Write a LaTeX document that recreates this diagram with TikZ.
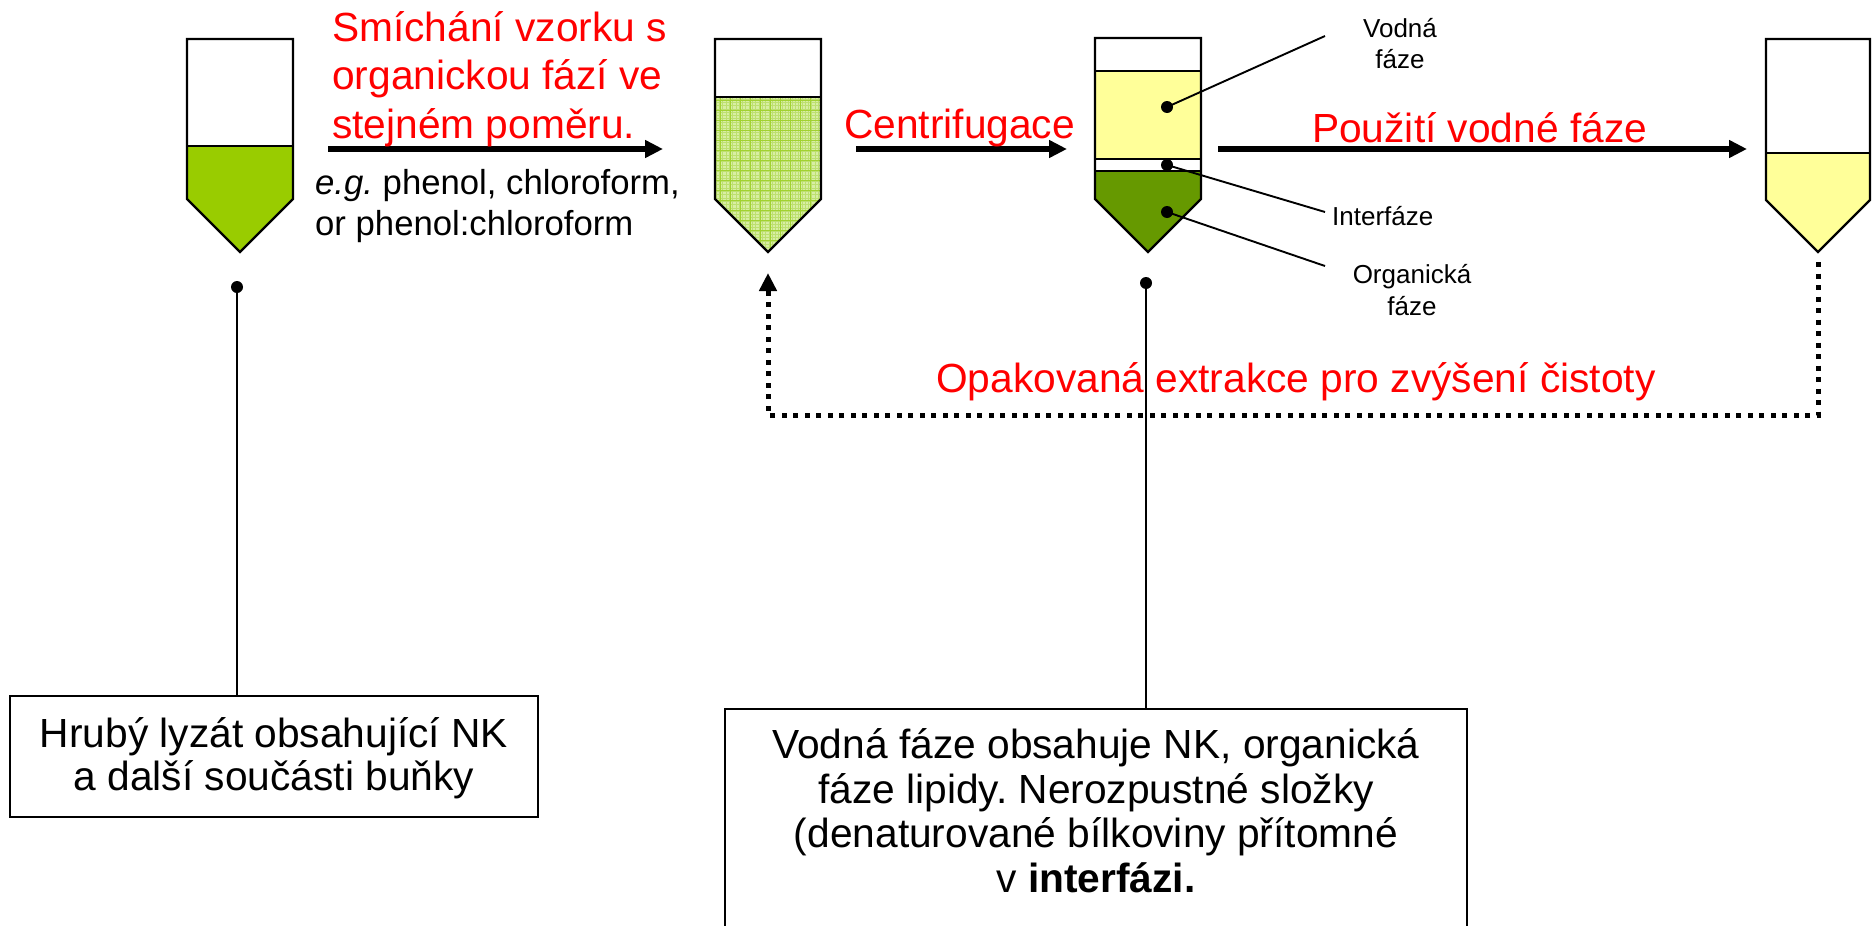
\documentclass[tikz,border=0pt]{standalone}
\usepackage{fontspec}
\setmainfont{Liberation Sans}
\usetikzlibrary{arrows.meta}
\frenchspacing

\definecolor{lysategreen}{HTML}{99CC00}
\definecolor{aqyellow}{HTML}{FFFF99}
\definecolor{orggreen}{HTML}{669900}
\definecolor{mixbase}{HTML}{D8EEA4}
\definecolor{mixfine}{HTML}{BDE070}
\definecolor{mixcoarse}{HTML}{A2D232}
\definecolor{labelred}{HTML}{FF0000}

\begin{document}
\begin{tikzpicture}[x=1pt,y=-1pt,
  tube/.style={draw=black, line width=2.4pt, line join=miter},
  flow/.style={line width=5.3pt, -{Triangle[length=18pt,width=17pt]}},
  loopline/.style={line width=5pt, dash pattern=on 5pt off 6.5pt, -{Triangle[length=18pt,width=17pt]}},
  leader/.style={line width=1.9pt},
  pin/.style={circle, fill=black, inner sep=0pt, minimum size=12pt},
  big/.style={font=\fontsize{40.7}{44.7}\selectfont, inner sep=0pt},
  redtxt/.style={big, text=labelred},
  mid/.style={font=\fontsize{34.7}{41}\selectfont, inner sep=0pt},
  small/.style={font=\fontsize{26}{31}\selectfont, inner sep=0pt},
  panel/.style={draw, line width=2.2pt, inner sep=0pt, fill=white}]

\clip (0,0) rectangle (1874,926);
\fill[white] (0,0) rectangle (1874,926);

% ---- tube 1: crude lysate
\fill[lysategreen] (187,146) -- (293,146) -- (293,199) -- (240,252) -- (187,199) -- cycle;
\draw[tube] (187,39) -- (293,39) -- (293,199) -- (240,252) -- (187,199) -- cycle;
\draw[tube] (187,146) -- (293,146);

% ---- tube 2: mixed emulsion with textured fill
\begin{scope}
  \clip (715,97) -- (821,97) -- (821,199) -- (768,252) -- (715,199) -- cycle;
  \fill[mixbase] (700,90) rectangle (830,260);
  \draw[mixfine, line width=0.7pt, step=3.3pt] (700,90) grid (830,260);
  \draw[mixcoarse, line width=1pt, step=10pt] (700,90) grid (830,260);
\end{scope}
\draw[tube] (715,39) -- (821,39) -- (821,199) -- (768,252) -- (715,199) -- cycle;
\draw[tube] (715,97) -- (821,97);

% ---- tube 3: separated phases
\fill[aqyellow] (1095,71) rectangle (1201,159);
\fill[orggreen] (1095,171) -- (1201,171) -- (1201,199) -- (1148,252) -- (1095,199) -- cycle;
\draw[tube] (1095,38) -- (1201,38) -- (1201,199) -- (1148,252) -- (1095,199) -- cycle;
\draw[tube] (1095,71) -- (1201,71);
\draw[tube] (1095,159) -- (1201,159);
\draw[tube] (1095,171) -- (1201,171);

% ---- tube 4: recovered aqueous phase
\fill[aqyellow] (1766,153) -- (1870,153) -- (1870,200) -- (1818,252) -- (1766,200) -- cycle;
\draw[tube] (1766,39) -- (1870,39) -- (1870,200) -- (1818,252) -- (1766,200) -- cycle;
\draw[tube] (1766,153) -- (1870,153);

% ---- process arrows
\coordinate (a1s) at (328,149);  \coordinate (a1e) at (663,149);
\coordinate (a2s) at (856,149);  \coordinate (a2e) at (1067,149);
\coordinate (a3s) at (1218,149); \coordinate (a3e) at (1747,149);
\draw[flow] (a1s) -- (a1e);
\draw[flow] (a2s) -- (a2e);
\draw[flow] (a3s) -- (a3e);

% ---- step labels
\node[redtxt, anchor=base west] (mix1) at (332,41) {Smíchání vzorku s};
\node[redtxt, anchor=base west] (mix2) at (332,89.5) {organickou fází ve};
\node[redtxt, anchor=base west] (mix3) at (332,138) {stejném poměru.};
\node[mid, anchor=base west] (eg1) at (315,194) {{\itshape e.g.} phenol, chloroform,};
\node[mid, anchor=base west] (eg2) at (315,235) {or phenol:chloroform};
\node[redtxt, anchor=base west] (centr) at (844,138) {Centrifugace};
\node[redtxt, anchor=base west] (useaq) at (1312,142) {Použití vodné fáze};
\node[redtxt, anchor=base west] (repeat) at (936,392) {Opakovaná extrakce pro zvýšení čistoty};

% ---- repeat-extraction loop
\coordinate (loopstart) at (1818,262);
\coordinate (loopR) at (1818,415);
\coordinate (loopL) at (768,415);
\coordinate (t2in) at (768,273);
\draw[loopline] (loopstart) -- (loopR) -- (loopL) -- (t2in);

% ---- phase labels of tube 3
\node[pin] (pv) at (1167,107) {};
\node[pin] (pi) at (1167,165) {};
\node[pin] (po) at (1167,212) {};
\coordinate (lv) at (1325,36);
\coordinate (li) at (1325,212);
\coordinate (lo) at (1325,266);
\draw[leader] (pv.center) -- (lv);
\draw[leader] (pi.center) -- (li);
\draw[leader] (po.center) -- (lo);
\node[small, anchor=base] (vod1) at (1400,37) {Vodná};
\node[small, anchor=base] (vod2) at (1400,68) {fáze};
\node[small, anchor=base west] (inter) at (1332,225) {Interfáze};
\node[small, anchor=base] (org1) at (1412,283) {Organická};
\node[small, anchor=base] (org2) at (1412,315) {fáze};

% ---- note boxes
\node[panel, minimum width=528pt, minimum height=121pt] (box1) at (274,756.5) {};
\node[big, anchor=base] (box1a) at (274,747) {Hrubý lyzát obsahující NK};
\node[big, anchor=base] (box1b) at (274,790) {a další součásti buňky};

\node[panel, minimum width=742pt, minimum height=260pt, anchor=north] (box2) at (1096,708) {};
\node[big, anchor=base] (box2a) at (1096,758) {Vodná fáze obsahuje NK, organická};
\node[big, anchor=base] (box2b) at (1096,803) {fáze lipidy. Nerozpustné složky};
\node[big, anchor=base] (box2c) at (1096,847) {(denaturované bílkoviny přítomné};
\node[big, anchor=base] (box2d) at (1096,892) {v \textbf{interfázi.}};

% ---- pins linking tubes to the notes
\node[pin] (p1) at (237,287) {};
\node[pin] (p3) at (1146,283) {};
\draw[leader] (p1.center) -- (p1 |- box1.north);
\draw[leader] (p3.center) -- (p3 |- box2.north);
\end{tikzpicture}
\end{document}
